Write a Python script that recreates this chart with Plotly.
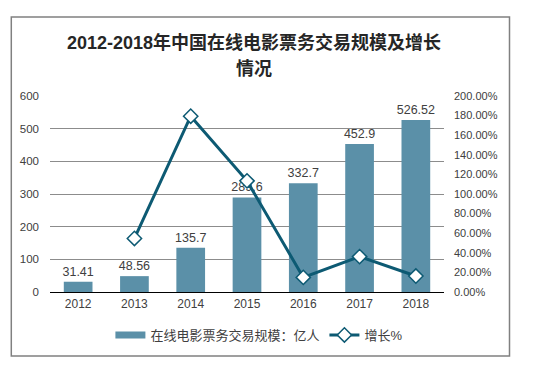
import plotly.graph_objects as go

years = ["2012", "2013", "2014", "2015", "2016", "2017", "2018"]
scale = [31.41, 48.56, 135.7, 289.6, 332.7, 452.9, 526.52]
growth_years = ["2013", "2014", "2015", "2016", "2017", "2018"]
growth = [0.546, 1.794, 1.134, 0.149, 0.361, 0.163]
title_lines = ["2012-2018年中国在线电影票务交易规模及增长", "情况"]
bar_name = "在线电影票务交易规模：亿人"
line_name = "增长%"

FONT = "Liberation Sans, Arial, Noto Sans CJK SC, sans-serif"
BAR = "#5B90A8"
LINE = "#0D5A73"
TXT = "#404040"

OFF = 8  # page body margin
W, H = 534 - OFF, 377 - OFF
PL, PR, PT, PB = 47, 444, 96, 292  # plot area in page pixels
L, T = PL - OFF, PT - OFF
R, B = W - (PR - OFF), H - (PB - OFF)
pw, ph = PR - PL, PB - PT

def px(x):
    return (x - PL) / pw

def py(y):
    return (PB - y) / ph

fig = go.Figure()
fig.add_trace(go.Bar(
    x=years, y=scale, name=bar_name, showlegend=False,
    marker=dict(color=BAR, line=dict(width=0)), width=0.51,
    text=[f"{v:g}" for v in scale], textposition="outside", constraintext="none",
    cliponaxis=False, textfont=dict(family=FONT, size=12.5, color=TXT),
))
# legend proxy giving the wide bar swatch
fig.add_trace(go.Scatter(
    x=[None], y=[None], name=bar_name, mode="lines",
    line=dict(color=BAR, width=7), hoverinfo="skip",
))
fig.add_trace(go.Scatter(
    x=growth_years, y=growth, name=line_name, yaxis="y2", mode="lines+markers",
    line=dict(color=LINE, width=3),
    marker=dict(symbol="diamond", size=11, color="white", line=dict(color=LINE, width=1.5)),
))

fig.add_annotation(xref="paper", yref="paper", x=px(253), y=py(43), text=f"<b>{title_lines[0]}</b>",
                   showarrow=False, xanchor="center", yanchor="middle",
                   font=dict(family=FONT, size=18, color="#262626"))
fig.add_annotation(xref="paper", yref="paper", x=px(253), y=py(69), text=f"<b>{title_lines[1]}</b>",
                   showarrow=False, xanchor="center", yanchor="middle",
                   font=dict(family=FONT, size=18, color="#262626"))

fig.add_shape(type="rect", xref="paper", yref="paper",
              x0=px(8), x1=px(510), y0=py(356), y1=py(17),
              line=dict(color="#808080", width=1.5), fillcolor="rgba(0,0,0,0)", layer="below")

fig.update_layout(
    width=W, height=H, margin=dict(l=L, r=R, t=T, b=B, pad=0),
    paper_bgcolor="white", plot_bgcolor="white",
    font=dict(family=FONT, color=TXT),
    showlegend=True,
    legend=dict(orientation="h", x=px(258), y=py(335), xanchor="center", yanchor="middle",
                font=dict(family=FONT, size=13, color=TXT), bgcolor="rgba(0,0,0,0)",
                itemwidth=30, tracegroupgap=0),
    xaxis=dict(type="category", categoryorder="array", categoryarray=years, range=[-0.5, 6.5],
               showline=True, linecolor="#000000", linewidth=1.2,
               ticks="", tickfont=dict(size=12, color=TXT), showgrid=False),
    yaxis=dict(range=[0, 600], dtick=100, showgrid=True, gridcolor="#8C8C8C", gridwidth=1,
               zeroline=False, showline=False, ticks="", tickfont=dict(size=11.5, color=TXT),
               ticklabelstandoff=10),
    yaxis2=dict(range=[0, 2.0], dtick=0.2, tickformat=".2%", overlaying="y", side="right",
                showgrid=False, zeroline=False, showline=False, ticks="",
                tickfont=dict(size=11, color=TXT), ticklabelstandoff=9),
    bargap=0.49,
)

fig.write_html("out.html")
